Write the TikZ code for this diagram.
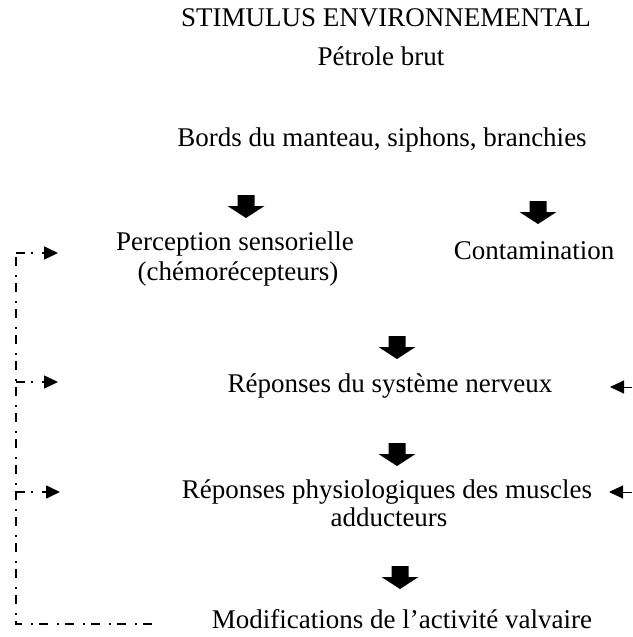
\documentclass[tikz,border=0pt]{standalone}
\usepackage{fontspec}
\setmainfont{Liberation Serif}
\usetikzlibrary{arrows.meta}
\tikzset{
  txt/.style={inner sep=0pt, anchor=base, font=\fontsize{27}{30}\selectfont},
  fb/.style={line width=1.6pt, dash pattern=on 9pt off 6pt on 2pt off 9pt},
  fbarrow/.style={fb, -{Triangle[length=14pt,width=13pt]}},
  inarrow/.style={line width=1pt, -{Triangle[length=14pt,width=13pt]}},
  pics/blockarrow/.style={code={
    \fill (-8.5,0) -- (8.5,0) -- (8.5,11) -- (18.5,11) -- (0,23) -- (-18.5,11) -- (-8.5,11) -- cycle;
  }}
}
\begin{document}
\begin{tikzpicture}[x=1pt,y=-1pt]
\useasboundingbox (0,0) rectangle (632,637);
\node[txt] (stim) at (386,27) {STIMULUS ENVIRONNEMENTAL};
\node[txt] (petr) at (381,65) {Pétrole brut};
\node[txt] (bords) at (382,146) {Bords du manteau, siphons, branchies};
\node[txt] (perc) at (235,250) {Perception sensorielle};
\node[txt] (chemo) at (238,280) {(chémorécepteurs)};
\node[txt] (cont) at (534,259) {Contamination};
\node[txt] (nerv) at (390,392) {Réponses du système nerveux};
\node[txt] (phys) at (387,498) {Réponses physiologiques des muscles};
\node[txt] (addu) at (389,526) {adducteurs};
\node[txt] (modif) at (402,628) {Modifications de l’activité valvaire};
\pic at (246,195) {blockarrow};
\pic at (538,201) {blockarrow};
\pic at (397,336) {blockarrow};
\pic at (397,443) {blockarrow};
\pic at (400,566) {blockarrow};
\coordinate (c1) at (16,253);
\coordinate (c2) at (16,382);
\coordinate (c3) at (16,492);
\coordinate (c4) at (16,624);
\coordinate (e4) at (152,624);
\coordinate (t1) at (58,253);
\coordinate (t2) at (58,382);
\coordinate (t3) at (60,492);
\draw[fb] (e4) -- (c4) -- (c1);
\draw[fbarrow] (c1) -- (t1);
\draw[fbarrow] (c2) -- (t2);
\draw[fbarrow] (c3) -- (t3);
\coordinate (r1) at (632,387);
\coordinate (r2) at (632,492);
\coordinate (s1) at (610,387);
\coordinate (s2) at (609,492);
\draw[inarrow] (r1) -- (s1);
\draw[inarrow] (r2) -- (s2);
\end{tikzpicture}
\end{document}
